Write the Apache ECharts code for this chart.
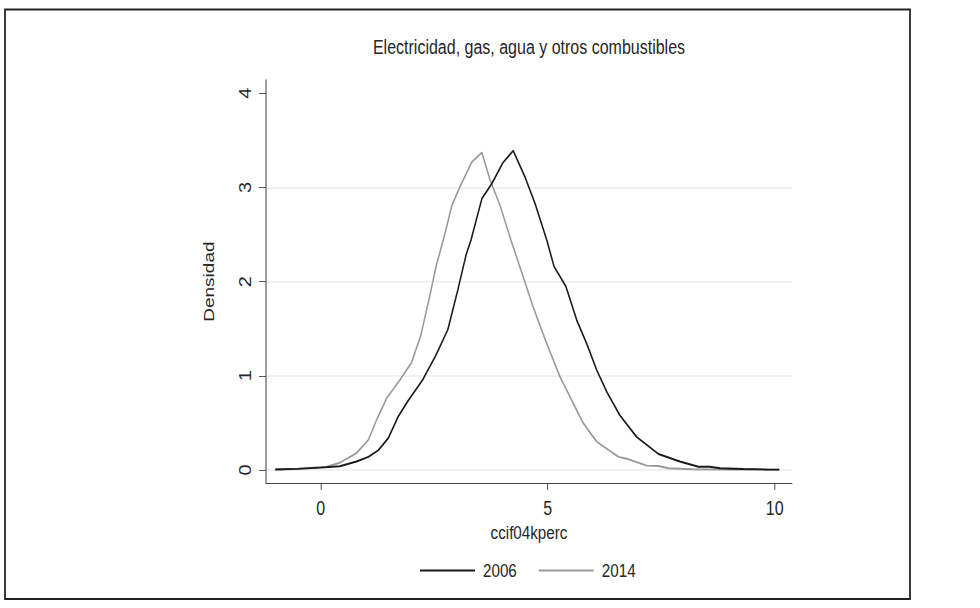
<!DOCTYPE html>
<html>
<head>
<meta charset="utf-8">
<script src="https://cdn.jsdelivr.net/npm/echarts@6/dist/echarts.min.js"></script>
<style>
  html, body { margin: 0; padding: 0; background: #ffffff; overflow: hidden; width: 980px; height: 608px; }
  /* the chart is laid out wide and then condensed horizontally */
  #chart { width: 1225px; height: 608px; transform: scaleX(0.8); transform-origin: 0 0; }
</style>
</head>
<body>
<div id="chart"></div>
<script>
// Kernel density estimates of ccif04kperc, 2006 vs 2014
const x2006 = [-1.0, -0.5, 0.0, 0.42, 0.79, 1.05, 1.27, 1.49, 1.71, 1.93, 2.25, 2.54, 2.80, 3.02, 3.20, 3.31, 3.55, 3.77, 4.01, 4.24, 4.50, 4.72, 4.98, 5.14, 5.40, 5.64, 5.86, 6.08, 6.30, 6.59, 6.96, 7.44, 7.91, 8.32, 8.57, 8.80, 9.30, 9.80, 10.10];
const y2006 = [0.005, 0.012, 0.025, 0.04, 0.09, 0.14, 0.21, 0.34, 0.57, 0.74, 0.96, 1.22, 1.49, 1.91, 2.28, 2.44, 2.88, 3.04, 3.26, 3.39, 3.11, 2.83, 2.44, 2.16, 1.95, 1.59, 1.34, 1.06, 0.83, 0.58, 0.35, 0.17, 0.09, 0.035, 0.035, 0.018, 0.01, 0.006, 0.004];

const x2014 = [-1.0, -0.5, 0.13, 0.42, 0.79, 1.05, 1.23, 1.45, 1.75, 2.0, 2.2, 2.38, 2.55, 2.70, 2.89, 3.07, 3.33, 3.55, 3.73, 3.95, 4.19, 4.46, 4.68, 4.98, 5.27, 5.56, 5.78, 6.08, 6.56, 6.74, 7.18, 7.44, 7.66, 8.2, 9.0, 10.1];
const y2014 = [0.005, 0.015, 0.035, 0.077, 0.18, 0.32, 0.53, 0.76, 0.96, 1.14, 1.42, 1.80, 2.18, 2.44, 2.81, 3.01, 3.27, 3.37, 3.08, 2.81, 2.44, 2.05, 1.73, 1.34, 0.99, 0.71, 0.50, 0.30, 0.14, 0.12, 0.046, 0.042, 0.018, 0.008, 0.005, 0.003];

const seriesNames = ['2006', '2014'];
const xTickValues = [0, 5, 10];

const titleText = 'Electricidad, gas, agua y otros combustibles';
const xTitle = 'ccif04kperc';
const yTitle = 'Densidad';

const FONT = '"Liberation Sans", Arial, Helvetica, sans-serif';
const TXT = '#262626';
const AXIS = '#444444';

// horizontal condensing factor (must match the CSS transform above)
const K = 0.8;
const W = 980 / K, H = 608;
const hx = v => v / K;          // on-screen x distance -> layout x distance

const zip = (xs, ys) => xs.map((x, i) => [x, ys[i]]);

// Plot region edges (on-screen pixels) and the value range they cover
const plotLeft = 266, plotRight = 792, plotTop = 80, plotBottom = 483;
const xMin = -1.205, xMax = 10.381;
const y0px = 470, y4px = 93.2;

const tickFs = 20, titleFs = 20, nameFs = 19, legendFs = 19;

const chart = echarts.init(document.getElementById('chart'), null, { renderer: 'svg', width: W, height: H });

chart.setOption({
  backgroundColor: '#ffffff',
  animation: false,
  textStyle: { fontFamily: FONT },
  title: {
    text: titleText,
    left: hx((plotLeft + plotRight) / 2),
    top: 47 - titleFs / 2,
    padding: 0,
    textAlign: 'center',
    textStyle: { fontFamily: FONT, fontSize: titleFs, fontWeight: 'normal', color: TXT }
  },
  legend: {
    data: seriesNames,
    left: hx(420),
    top: 561,
    padding: 0,
    itemWidth: hx(55),
    itemHeight: 14,
    itemGap: hx(22),
    icon: 'path://M0,0 L55,0 L55,1.6 L0,1.6 Z',
    textStyle: { fontFamily: FONT, fontSize: legendFs, color: TXT, padding: [0, 0, 0, hx(8) - 5] }
  },
  grid: [
    // frame holding only the two axis lines
    { left: hx(plotLeft), right: W - hx(plotRight), top: plotTop, bottom: H - plotBottom, containLabel: false },
    // data area: y from 0 to 4
    { left: hx(plotLeft), right: W - hx(plotRight), top: y4px, bottom: H - y0px, containLabel: false }
  ],
  xAxis: [
    {
      gridIndex: 0, type: 'value', min: xMin, max: xMax,
      axisLine: { show: true, onZero: false, lineStyle: { color: AXIS, width: 1.1 } },
      axisTick: { show: false }, axisLabel: { show: false }, splitLine: { show: false }
    },
    {
      gridIndex: 1, type: 'value', min: xMin, max: xMax,
      offset: plotBottom - y0px,
      axisLine: { show: false, onZero: false },
      axisTick: { show: true, inside: false, length: 7, customValues: xTickValues, lineStyle: { color: AXIS, width: 1.2 } },
      axisLabel: { show: true, customValues: xTickValues, margin: 508 - plotBottom - tickFs / 2, fontFamily: FONT, fontSize: tickFs, color: TXT },
      splitLine: { show: false },
      name: xTitle, nameLocation: 'middle', nameGap: 529 - plotBottom - nameFs / 2,
      nameTextStyle: { fontFamily: FONT, fontSize: nameFs, color: TXT }
    }
  ],
  yAxis: [
    {
      gridIndex: 0, type: 'value', min: -0.138, max: 4.14,
      axisLine: { show: true, onZero: false, lineStyle: { color: AXIS, width: 1.3 } },
      axisTick: { show: false }, axisLabel: { show: false }, splitLine: { show: false }
    },
    {
      gridIndex: 1, type: 'value', min: 0, max: 4, interval: 1,
      axisLine: { show: false, onZero: false },
      axisTick: { show: true, inside: false, length: hx(7), lineStyle: { color: AXIS, width: 1 } },
      axisLabel: { show: true, rotate: 90, margin: hx(plotLeft - 246) - tickFs / 2, fontFamily: FONT, fontSize: tickFs, color: TXT },
      splitLine: { show: true, showMaxLine: false, lineStyle: { color: '#ececec', width: 1.5 } },
      name: yTitle, nameLocation: 'middle', nameGap: hx(plotLeft - 209) - nameFs / 2,
      nameTextStyle: { fontFamily: FONT, fontSize: nameFs, color: TXT }
    }
  ],
  series: [
    {
      name: seriesNames[0], type: 'line', xAxisIndex: 1, yAxisIndex: 1,
      data: zip(x2006, y2006), showSymbol: false, symbol: 'none', clip: false,
      lineStyle: { color: '#1a1a1a', width: 1.9 }, itemStyle: { color: '#1a1a1a' }, z: 3
    },
    {
      name: seriesNames[1], type: 'line', xAxisIndex: 1, yAxisIndex: 1,
      data: zip(x2014, y2014), showSymbol: false, symbol: 'none', clip: false,
      lineStyle: { color: '#999999', width: 1.9 }, itemStyle: { color: '#999999' }, z: 2
    }
  ],
  graphic: [
    {
      type: 'rect', silent: true, z: 10,
      shape: { x: hx(5), y: 9.5, width: hx(905), height: 589.5 },
      style: { fill: 'none', stroke: '#222222', lineWidth: 2.2 }
    }
  ]
});
</script>
</body>
</html>
